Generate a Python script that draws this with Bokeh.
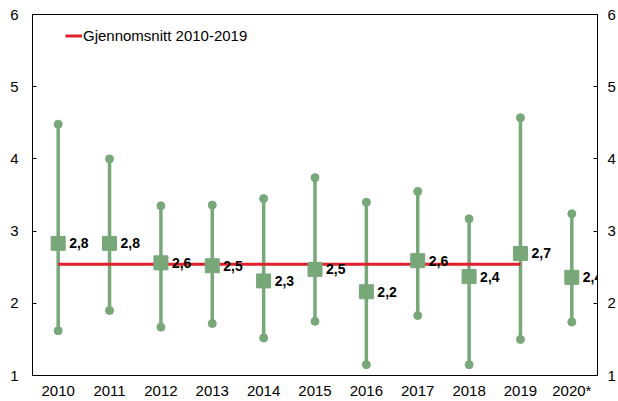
from bokeh.plotting import figure
from bokeh.models import Range1d, LinearAxis, FixedTicker, ColumnDataSource, Legend, LegendItem
from bokeh.core.properties import value
from bokeh.embed import file_html
from bokeh.resources import INLINE

years = ["2010", "2011", "2012", "2013", "2014", "2015", "2016", "2017", "2018", "2019", "2020*"]
high = [4.48, 4.00, 3.35, 3.36, 3.45, 3.74, 3.40, 3.55, 3.17, 4.57, 3.24]
low = [1.62, 1.90, 1.67, 1.72, 1.52, 1.75, 1.15, 1.83, 1.15, 1.50, 1.74]
mean = [2.83, 2.83, 2.56, 2.52, 2.31, 2.47, 2.16, 2.59, 2.37, 2.69, 2.36]
avg_years = years[:10]
avg_value = 2.54
legend_label = "Gjennomsnitt 2010-2019"
y_ticks = [1, 2, 3, 4, 5, 6]

GREEN = "#78a77a"
RED = "#e0202a"
FONT = "Liberation Sans"

src = ColumnDataSource(dict(
    x=years, high=high, low=low, mean=mean,
    lab=[f"{v:.1f}".replace(".", ",") for v in mean],
))

p = figure(x_range=years, y_range=Range1d(1, 6), width=618, height=401,
           output_backend="svg", toolbar_location=None,
           min_border_left=32, min_border_right=19, min_border_top=14, min_border_bottom=24,
           y_axis_location=None)
p.xgrid.visible = False
p.ygrid.visible = False
p.outline_line_color = "black"
p.outline_line_width = 1
p.background_fill_color = "white"

# axes
left = LinearAxis(ticker=FixedTicker(ticks=y_ticks))
right = LinearAxis(ticker=FixedTicker(ticks=y_ticks))
for ax in (left, right):
    ax.major_tick_in = 4
    ax.major_tick_out = 0
    ax.minor_tick_line_color = None
    ax.axis_line_color = "black"
    ax.major_tick_line_color = "black"
    ax.major_label_text_font = FONT
    ax.major_label_text_font_size = "15px"
    ax.major_label_text_color = "black"
left.major_label_standoff = 14
right.major_label_standoff = 10
p.add_layout(left, "left")
p.add_layout(right, "right")

xa = p.xaxis[0]
xa.major_tick_line_color = None
xa.major_tick_out = 0
xa.major_tick_in = 0
xa.axis_line_color = "black"
xa.major_label_text_font = FONT
xa.major_label_text_font_size = "15px"
xa.major_label_text_color = "black"
xa.major_label_standoff = 6

# range bars
p.segment(x0="x", y0="low", x1="x", y1="high", source=src, line_color=GREEN, line_width=3.5)
p.scatter(x="x", y="high", source=src, marker="circle", size=8, fill_color=GREEN, line_color=GREEN)
p.scatter(x="x", y="low", source=src, marker="circle", size=8, fill_color=GREEN, line_color=GREEN)

# average line
avg = p.line(x=avg_years, y=[avg_value] * len(avg_years), line_color=RED, line_width=3)

# mean squares
p.scatter(x="x", y="mean", source=src, marker="square", size=14, fill_color=GREEN, line_color=GREEN)

# labels
p.text(x="x", y="mean", text="lab", source=src, x_offset=11,
       text_font=value(FONT), text_font_size="14px", text_font_style="bold",
       text_baseline="middle", text_align="left", text_color="black")

legend = Legend(items=[LegendItem(label=legend_label, renderers=[avg])],
                location=(33, 331), orientation="vertical",
                background_fill_alpha=0, border_line_alpha=0,
                padding=0, margin=0, glyph_width=17, glyph_height=17,
                label_standoff=1, label_text_font=FONT, label_text_font_size="15px",
                label_text_color="black")
p.add_layout(legend)

open("out.html", "w").write(file_html(p, INLINE))
